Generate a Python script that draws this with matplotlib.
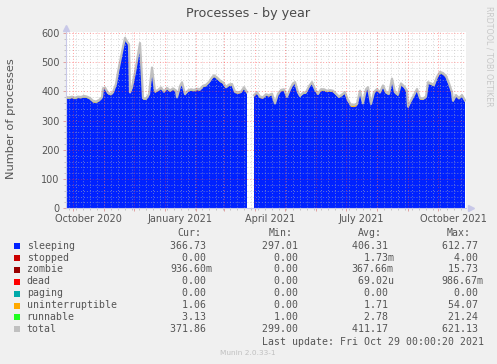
import datetime as dt

import matplotlib
matplotlib.use("Agg")
import matplotlib.dates as mdates
import matplotlib.pyplot as plt
import numpy as np
from matplotlib.patches import Rectangle

start = dt.date(2020, 9, 24)
days = [0, 3, 6, 9, 12, 15, 18, 21, 24, 27,
        30, 33, 36, 37, 39, 42, 45, 47, 50, 52,
        54, 57, 59, 61, 63, 64, 66, 69, 72, 74,
        76, 77, 80, 83, 86, 89, 92, 95, 98, 101,
        104, 107, 110, 111, 114, 116, 119, 122, 125, 128,
        131, 134, 137, 140, 143, 146, 148, 151, 154, 157,
        160, 163, 166, 169, 172, 175, 178, 181, 182, 187,
        188, 191, 194, 197, 200, 203, 206, 209, 212, 215,
        218, 221, 224, 227, 229, 232, 234, 237, 240, 243,
        246, 249, 252, 255, 258, 261, 264, 267, 270, 273,
        276, 279, 282, 285, 288, 291, 294, 297, 300, 302,
        305, 308, 311, 314, 317, 320, 323, 326, 329, 332,
        335, 338, 341, 342, 345, 348, 351, 354, 357, 360,
        362, 365, 368, 371, 374, 377, 380, 383, 386, 387,
        390, 393, 396, 399]
nan = float("nan")
sleeping = [376, 374, 377, 373, 377, 376, 379, 377, 372, 362,
            360, 365, 375, 405, 408, 390, 386, 392, 420, 460,
            495, 545, 577, 565, 555, 392, 410, 460, 520, 559,
            440, 372, 370, 385, 476, 395, 400, 408, 395, 407,
            398, 405, 398, 375, 412, 426, 386, 398, 402, 400,
            404, 402, 414, 417, 427, 442, 449, 442, 432, 426,
            410, 418, 420, 394, 392, 394, 409, 392, nan, nan,
            382, 392, 377, 375, 385, 382, 387, 354, 387, 400,
            402, 377, 402, 422, 426, 392, 380, 390, 392, 412,
            426, 402, 387, 402, 402, 397, 399, 397, 387, 377,
            384, 392, 364, 347, 346, 350, 397, 354, 402, 409,
            352, 392, 403, 392, 415, 392, 387, 438, 392, 384,
            422, 412, 397, 342, 364, 382, 403, 372, 370, 377,
            426, 422, 417, 443, 461, 457, 447, 422, 392, 363,
            382, 372, 382, 364]
uninterruptible = [1.5, 1.5, 1.4, 1.6, 1.5, 1.5, 1.7, 1.5, 1.6, 1.8,
                   1.8, 1.6, 1.5, 1.4, 1.5, 1.6, 1.5, 1.4, 1.5, 1.6,
                   1.5, 1.5, 1.4, 1.6, 1.5, 1.6, 1.5, 1.4, 1.5, 1.6,
                   1.7, 1.8, 1.7, 1.5, 1.4, 1.6, 1.5, 1.5, 1.6, 1.5,
                   1.6, 1.5, 1.5, 2.0, 1.6, 1.5, 1.8, 1.6, 1.5, 1.6,
                   1.5, 1.6, 1.5, 1.5, 1.4, 1.5, 1.6, 1.5, 1.5, 1.6,
                   1.7, 1.6, 1.5, 1.8, 1.7, 1.6, 1.5, 1.7, nan, nan,
                   1.8, 1.6, 1.8, 1.7, 1.6, 1.7, 1.6, 2.5, 1.6, 1.5,
                   1.5, 2.0, 1.6, 1.5, 1.5, 1.8, 1.9, 1.7, 1.6, 1.5,
                   1.5, 1.6, 1.8, 1.6, 1.5, 1.7, 1.6, 1.6, 1.8, 2.0,
                   1.8, 1.7, 2.5, 4.5, 5.0, 4.0, 1.7, 2.5, 1.6, 1.5,
                   2.5, 1.7, 1.6, 1.7, 1.5, 1.7, 1.8, 1.5, 1.8, 1.9,
                   1.5, 1.6, 1.7, 3.0, 2.2, 1.9, 1.6, 2.0, 2.0, 1.8,
                   1.5, 1.5, 1.6, 2.5, 1.5, 1.5, 1.6, 1.6, 1.8, 2.2,
                   1.8, 1.9, 1.8, 1.9]
runnable = [3.0, 3.2, 2.9, 3.1, 3.0, 2.8, 3.3, 3.0, 3.1, 3.4,
            3.2, 3.0, 2.9, 3.5, 3.1, 2.9, 3.0, 3.2, 3.6, 3.8,
            4.0, 4.5, 4.2, 3.8, 3.5, 2.8, 3.0, 3.5, 4.0, 4.2,
            3.2, 2.8, 2.9, 3.0, 3.6, 3.0, 2.9, 3.1, 2.8, 3.0,
            2.9, 3.1, 3.0, 2.6, 3.2, 3.3, 2.8, 3.0, 3.1, 2.9,
            3.0, 3.2, 3.1, 3.3, 3.4, 3.6, 3.8, 3.5, 3.3, 3.1,
            3.0, 3.2, 3.1, 2.9, 2.8, 3.0, 3.2, 2.9, nan, nan,
            2.8, 3.0, 2.9, 2.7, 3.0, 2.9, 3.1, 2.6, 3.0, 3.1,
            3.2, 2.8, 3.1, 3.4, 3.5, 2.9, 2.8, 3.0, 3.1, 3.3,
            3.5, 3.1, 2.9, 3.1, 3.2, 3.0, 3.1, 3.0, 2.9, 2.8,
            3.0, 3.1, 2.7, 2.6, 2.5, 2.6, 3.1, 2.7, 3.2, 3.3,
            2.6, 3.0, 3.1, 2.9, 3.2, 3.0, 2.9, 3.5, 3.0, 2.9,
            3.3, 3.1, 3.0, 2.5, 2.8, 3.0, 3.2, 2.9, 2.9, 3.0,
            3.4, 3.3, 3.2, 3.6, 3.8, 3.7, 3.5, 3.2, 3.0, 2.7,
            3.0, 2.9, 3.0, 2.8]
zombie = 0.37

# legend table
names = ["sleeping", "stopped", "zombie", "dead", "paging",
         "uninterruptible", "runnable", "total"]
colors = ["#0022ff", "#cc0000", "#990000", "#ff0000", "#00aaaa",
          "#ffaa00", "#22ff22", "#c0c0c0"]
cur_vals = ["366.73", "0.00", "936.60m", "0.00", "0.00", "1.06", "3.13", "371.86"]
min_vals = ["297.01", "0.00", "0.00", "0.00", "0.00", "0.00", "1.00", "299.00"]
avg_vals = ["406.31", "1.73m", "367.66m", "69.02u", "0.00", "1.71", "2.78", "411.17"]
max_vals = ["612.77", "4.00", "15.73", "986.67m", "0.00", "54.07", "21.24", "621.13"]
x_labels = ["October 2020", "January 2021", "April 2021", "July 2021", "October 2021"]

W, H = 497, 364
BG = "#f0f0f0"
TXT = "#555555"
AXC = "#c8c8e8"

dates = [start + dt.timedelta(days=d) for d in days]
sl = np.array(sleeping, dtype=float)
un = np.array(uninterruptible, dtype=float)
ru = np.array(runnable, dtype=float)
lvl1 = sl + zombie
lvl2 = lvl1 + un
lvl3 = lvl2 + ru

fig = plt.figure(figsize=(W / 100, H / 100), dpi=100, facecolor=BG)
ax = fig.add_axes([66 / W, (H - 208.3) / H, 400 / W, 176.3 / H])
ax.set_facecolor("white")

ax.fill_between(dates, 0, sl, color=colors[0], lw=0, zorder=2)
ax.fill_between(dates, sl, lvl1, color=colors[2], lw=0, zorder=2)
ax.fill_between(dates, lvl1, lvl2, color=colors[5], lw=0, zorder=2)
ax.fill_between(dates, lvl2, lvl3, color=colors[6], lw=0, zorder=2)
ax.plot(dates, lvl3, color=colors[7], lw=1.6, zorder=3)

x0 = dt.date(2020, 9, 24)
x1 = dt.date(2021, 10, 29)
ax.set_xlim(x0, x1)
ax.set_ylim(0, 603)

# grid drawn over the data like rrdtool does
months = [dt.date(2020 + (9 + i) // 12, (9 + i) % 12 + 1, 1) for i in range(13)]
weeks = mdates.drange(dt.date(2020, 9, 27), x1, dt.timedelta(days=7))
for w in weeks:
    ax.axvline(w, color=(0.72, 0.72, 0.72, 0.55), lw=0.7, ls=(0, (1, 2)), zorder=4)
for m in months:
    ax.axvline(m, color=(1.0, 0.25, 0.25, 0.5), lw=0.7, ls=(0, (1, 2)), zorder=5)
for v in range(20, 601, 20):
    if v % 100:
        ax.axhline(v, color=(0.72, 0.72, 0.72, 0.55), lw=0.7, ls=(0, (1, 2)), zorder=4)
    else:
        ax.axhline(v, color=(1.0, 0.25, 0.25, 0.5), lw=0.7, ls=(0, (1, 2)), zorder=5)

for s in ["top", "right"]:
    ax.spines[s].set_visible(False)
for s in ["left", "bottom"]:
    ax.spines[s].set_color(AXC)
    ax.spines[s].set_linewidth(0.8)
    ax.spines[s].set_zorder(6)
ax.plot([0], [1.02], marker="^", ms=4, color=AXC, transform=ax.transAxes, clip_on=False)
ax.plot([1.012], [0], marker=">", ms=4, color=AXC, transform=ax.transAxes, clip_on=False)

ax.set_yticks(range(0, 601, 100))
ax.set_yticks(range(0, 601, 20), minor=True)
ax.set_xticks(months)
ax.set_xticks(weeks, minor=True)
ax.set_xticklabels([])
ax.tick_params(axis="both", which="major", length=2.5, color="#e0a0a0", width=0.7,
               labelsize=7, labelcolor=TXT, pad=2)
ax.tick_params(axis="both", which="minor", length=1.5, color="#bbbbbb", width=0.6)

lab_dates = [dt.date(2020, 10, 16), dt.date(2021, 1, 16), dt.date(2021, 4, 16),
             dt.date(2021, 7, 16), dt.date(2021, 10, 16)]
for d, lab in zip(lab_dates, x_labels):
    ax.text(mdates.date2num(d), -0.035, lab, transform=ax.get_xaxis_transform(),
            ha="center", va="top", fontsize=7, color=TXT)

fig.text(248.5 / W, 1 - 13 / H, "Processes - by year", ha="center", va="center",
         fontsize=9.2, color="#4a4a4a")
fig.text(11 / W, 1 - 119 / H, "Number of processes", rotation=90, ha="center",
         va="center", fontsize=8.2, color=TXT)
fig.text(489 / W, 1 - 56.5 / H, "RRDTOOL / TOBI OETIKER", rotation=270, ha="center",
         va="center", fontsize=5.7, color="#c8c8c8")

# legend block
mono = "DejaVu Sans Mono"
fs = 7.1
cols = [(170.5, cur_vals, 177, "Cur:"), (261.7, min_vals, 268.3, "Min:"),
        (351.7, avg_vals, 358.3, "Avg:"), (441.7, max_vals, 446.7, "Max:")]
row_y = [245.7, 257.6, 269.5, 281.5, 293.5, 305.5, 317.4, 329.3]


def field(s):
    if s[-1].isalpha():
        return f"{s[:-1]:>6}{s[-1]}"
    return f"{s:>6} "


for cx, vals, hx, head in cols:
    fig.text(hx / W, 1 - 233.3 / H, head, family=mono, fontsize=fs, color=TXT,
             ha="left", va="center")
    for y, v in zip(row_y, vals):
        fig.text(cx / W, 1 - y / H, field(v), family=mono, fontsize=fs, color=TXT,
                 ha="left", va="center")

for y, n, c in zip(row_y, names, colors):
    fig.add_artist(Rectangle((14 / W, 1 - (y + 3) / H), 6 / W, 6 / H, color=c,
                             transform=fig.transFigure, lw=0))
    fig.text(26.7 / W, 1 - y / H, n, family=mono, fontsize=fs, color=TXT,
             ha="left", va="center")

fig.text(261.7 / W, 1 - 341.7 / H, "Last update: Fri Oct 29 00:00:20 2021",
         family=mono, fontsize=fs, color=TXT, ha="left", va="center")
fig.text(248 / W, 1 - 353 / H, "Munin 2.0.33-1", ha="center", va="center",
         fontsize=5.3, color="#c0c0c0")

fig.savefig("out.png", dpi=100, facecolor=BG)
